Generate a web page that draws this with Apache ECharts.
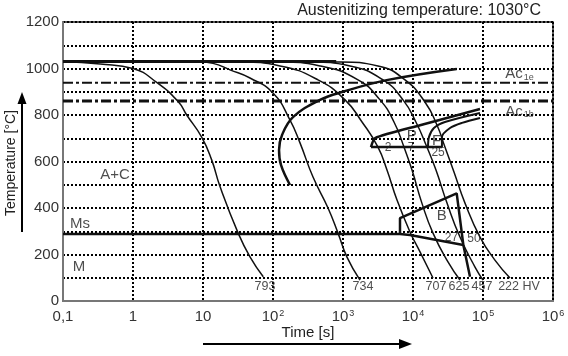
<!DOCTYPE html>
<html><head><meta charset="utf-8">
<script src="https://cdn.jsdelivr.net/npm/echarts@6/dist/echarts.min.js"></script>
<style>html,body{margin:0;padding:0;background:#fff}#c{width:568px;height:356px}</style>
</head><body><div id="c"></div>
<script>
// ---- data (time in s, temperature in °C) ----
const timeTicks = [0.1, 1, 10, 100, 1000, 10000, 100000, 1000000];
const tempTicks = [0, 200, 400, 600, 800, 1000, 1200];
const austTemp = 1030, ac1eTemp = 939, ac1bTemp = 860;

const curve793 = [[0.1,1030],[0.34,1019],[1,1000],[2.18,940],[4.44,857],[5.85,800],[9.57,705],[13.3,607],[17.5,492],[31.9,291],[46.9,190],[72.6,104]];
const curve734 = [[0.1,1030],[9.06,1028],[13.9,1022],[24.3,994],[46.9,959],[100,895],[175,778],[243,680],[373,533],[611,400],[849,292],[1140,189],[1750,90]];
const curve707 = [[0.1,1030],[33.8,1028],[126,1011],[440,951],[1070,865],[1870,770],[3160,662],[4250,563],[5910,434],[9060,297],[12600,211],[19300,99]];
const curve625 = [[0.1,1030],[126,1028],[469,1011],[1640,951],[3380,865],[5350,770],[7440,662],[9680,563],[13400,421],[19300,292],[31600,168],[46900,90]];
const curve457 = [[0.1,1030],[338,1028],[1260,1011],[3730,951],[7200,865],[11000,770],[15800,662],[21300,563],[30600,421],[46900,275],[76900,146],[100000,90]];
const curve222 = [[0.1,1030],[906,1028],[3160,1011],[7690,951],[14800,856],[22000,757],[28600,662],[38500,555],[55300,421],[90600,275],[148000,176],[243000,99]];
const austLine = [[0.1,1030],[800,1030]];

const carbideStart = [[175,499],[130,585],[122,650],[134.6,714],[193,791],[469,865],[1000,900],[4200,950],[42000,998]];
const pearliteStart = [[2510,662],[2870,701],[12600,756],[90600,826]];
const pearliteFinish = [[2510,662],[25900,662]];
const ferriteOuter = [[16400,662],[16900,705],[19900,744],[28600,770],[90600,809]];
const ferriteInner = [[25900,662],[25900,705],[33800,744],[50100,766],[90600,787]];
const msLine = [[0.1,288],[6520,288],[9060,284],[52400,241]];
const bainiteEdge = [[6520,288],[6520,356],[42100,463],[52400,241],[65200,104]];
const ac1eLine = [[0.1,ac1eTemp],[1000000,ac1eTemp]];
const ac1bLine = [[0.1,ac1bTemp],[1000000,ac1bTemp]];

const regionLabels = [['A+C',0.553,542],['Ms',0.175,331],['M',0.169,146],['P',9570,710],['F',21800,688],['B',25700,366]];
const percentLabels = [['2',4390,658],['7',9360,658],['25',22800,639],['27',35500,273],['50',74300,267]];
const hardnessLabels = [['793',76.9,62],['734',1930,62],['707',21300,62],['625',45400,62],['457',96800,62],['222 HV',327000,62]];
const acLabels = [['1e',332000,976],['1b',332000,815]];

// ---- chart ----
const FONT = 'Liberation Sans, Arial, sans-serif';
const chart = echarts.init(document.getElementById('c'), null, {renderer:'canvas'});
function lineSeries(data, width, extra) {
  return Object.assign({type:'line', data:data, showSymbol:false, symbol:'none', silent:true,
    smooth:0.5, lineStyle:{color:'#111', width:width}, z:3, animation:false}, extra||{});
}
function labelSeries(list, size, rich) {
  return {type:'scatter', symbolSize:1, silent:true, animation:false, z:6,
    itemStyle:{color:'rgba(0,0,0,0)'},
    data:list.map(d => ({value:[d[1],d[2]], name:d[0]})),
    label:{show:true, position:'inside', color:'#222', fontFamily:FONT, fontSize:size,
      formatter: rich ? (p => '{a|Ac}{b|' + p.name + '}') : (p => p.name),
      rich: rich || undefined}};
}
const grid = {color:'#000', width:2, type:[2,2]};
const option = {
  animation:false,
  grid:{left:63, right:15, top:22, bottom:55, show:true, borderColor:'#222', borderWidth:1.5, backgroundColor:'transparent'},
  xAxis:{type:'log', logBase:10, min:timeTicks[0], max:timeTicks[timeTicks.length-1],
    axisLine:{show:true, lineStyle:{color:'#777', width:2}}, axisTick:{show:false},
    splitLine:{show:true, lineStyle:grid},
    axisLabel:{show:true, showMinLabel:true, showMaxLabel:true, margin:8, color:'#333', fontFamily:FONT, fontSize:15,
      formatter: v => { const e = Math.round(Math.log10(v)); if (e === -1) return '{b|0,1}'; if (e === 0) return '{b|1}'; if (e === 1) return '{b|10}'; return '{b|10}{s|' + e + '}'; },
      rich:{b:{fontSize:15, fontFamily:FONT, color:'#333'}, s:{fontSize:9, fontFamily:FONT, color:'#333', verticalAlign:'top', padding:[0,0,6,1]}}}},
  yAxis:{type:'value', min:tempTicks[0], max:tempTicks[tempTicks.length-1], interval:100,
    axisLine:{show:true, lineStyle:{color:'#777', width:2}}, axisTick:{show:false},
    splitLine:{show:true, lineStyle:grid},
    axisLabel:{margin:4, color:'#333', fontFamily:FONT, fontSize:15,
      formatter: v => tempTicks.indexOf(v) >= 0 ? String(v) : ''}},
  series:[
    lineSeries(ac1eLine, 2, {smooth:false, lineStyle:{color:'#111', width:2, type:[10,3,3,3]}}),
    lineSeries(ac1bLine, 3, {smooth:false, lineStyle:{color:'#111', width:3, type:[10,3,3,3]}}),
    lineSeries(austLine, 3, {smooth:false}),
    lineSeries(curve793, 1.5),
    lineSeries(curve734, 1.5),
    lineSeries(curve707, 1.5),
    lineSeries(curve625, 1.5),
    lineSeries(curve457, 1.5),
    lineSeries(curve222, 1.5),
    lineSeries(carbideStart, 2.5, {smooth:0.4}),
    lineSeries(pearliteStart, 2.5, {smooth:0.2}),
    lineSeries(pearliteFinish, 2.5, {smooth:false}),
    lineSeries(ferriteOuter, 2, {smooth:0.3}),
    lineSeries(ferriteInner, 2, {smooth:0.3}),
    lineSeries(msLine, 2.5, {smooth:false}),
    lineSeries(bainiteEdge, 2.5, {smooth:false}),
    labelSeries(regionLabels, 15),
    labelSeries(percentLabels, 12),
    labelSeries(hardnessLabels, 12.5),
    labelSeries(acLabels, 15, {a:{fontSize:15, fontFamily:FONT, color:'#222'}, b:{fontSize:9, fontFamily:FONT, color:'#222', verticalAlign:'bottom', padding:[6,0,0,1]}})
  ],
  graphic:[
    {type:'text', right:27, top:3, style:{text:'Austenitizing temperature: 1030°C', font:'16px ' + FONT, fill:'#222'}},
    {type:'text', x:11, y:163, rotation:Math.PI/2, style:{text:'Temperature [°C]', font:'14px ' + FONT, fill:'#222', align:'center', verticalAlign:'middle'}},
    {type:'line', shape:{x1:22, y1:232, x2:22, y2:100}, style:{stroke:'#000', lineWidth:2}},
    {type:'polygon', shape:{points:[[22,92],[17.5,104],[26.5,104]]}, style:{fill:'#000'}},
    {type:'text', x:308, y:333, style:{text:'Time [s]', font:'15px ' + FONT, fill:'#222', align:'center', verticalAlign:'middle'}},
    {type:'line', shape:{x1:203, y1:344, x2:402, y2:344}, style:{stroke:'#000', lineWidth:2}},
    {type:'polygon', shape:{points:[[412,344],[399,339],[399,349]]}, style:{fill:'#000'}}
  ]
};
chart.setOption(option);
</script></body></html>
